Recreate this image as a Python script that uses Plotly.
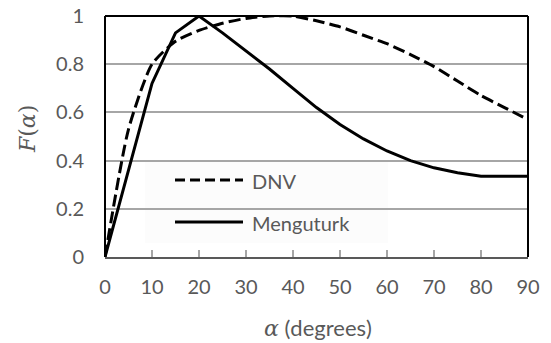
import plotly.graph_objects as go

angles = [0, 5, 10, 15, 20, 25, 30, 35, 40, 45, 50, 55, 60, 65, 70, 75, 80, 85, 90]
dnv = [0, 0.53, 0.80, 0.895, 0.94, 0.97, 0.99, 1.0, 1.0, 0.98, 0.955, 0.92, 0.885, 0.84, 0.79, 0.73, 0.67, 0.62, 0.57]
menguturk = [0, 0.36, 0.72, 0.93, 1.0, 0.93, 0.855, 0.78, 0.70, 0.62, 0.55, 0.49, 0.44, 0.40, 0.37, 0.35, 0.335, 0.335, 0.335]
x_ticks = [0, 10, 20, 30, 40, 50, 60, 70, 80, 90]
y_ticks = [0, 0.2, 0.4, 0.6, 0.8, 1.0]
y_tick_text = ["0", "0.2", "0.4", "0.6", "0.8", "1"]
series_names = ["DNV", "Menguturk"]

GRAY = "#595959"
FONT = "Lato"

fig = go.Figure()
fig.add_trace(go.Scatter(x=angles, y=dnv, mode="lines", name=series_names[0],
                         line=dict(color="black", width=3, dash="12px,5px", shape="spline", smoothing=0.6),
                         showlegend=False))
fig.add_trace(go.Scatter(x=angles, y=menguturk, mode="lines", name=series_names[1],
                         line=dict(color="black", width=3),
                         showlegend=False))

W, H = 551, 343
ml, mr, mt, mb = 105, 23, 16, 86
pw, ph = W - ml - mr, H - mt - mb

def px(x):  # page pixel -> paper fraction
    return (x - ml) / pw

def py(y):
    return 1 - (y - mt) / ph

L, R, T, B = 145, 388, 160, 243
shapes = [
    dict(type="rect", xref="paper", yref="paper", x0=px(L), x1=px(R), y0=py(B), y1=py(T),
         fillcolor="#fcfcfc", line=dict(width=0), layer="between"),
    dict(type="line", xref="paper", yref="paper", x0=px(175), x1=px(243), y0=py(180), y1=py(180),
         line=dict(color="black", width=3, dash="10px,5px")),
    dict(type="line", xref="paper", yref="paper", x0=px(175), x1=px(243), y0=py(222), y1=py(222),
         line=dict(color="black", width=3)),
    dict(type="line", xref="paper", yref="paper", x0=0, x1=0, y0=0, y1=1, line=dict(color="black", width=2)),
    dict(type="line", xref="paper", yref="paper", x0=0, x1=1, y0=1, y1=1, line=dict(color="black", width=2)),
    dict(type="line", xref="paper", yref="paper", x0=1, x1=1, y0=0, y1=1, line=dict(color="black", width=2)),
]
annotations = [
    dict(text=series_names[0], xref="paper", yref="paper", x=px(250), y=py(181), xanchor="left", yanchor="middle",
         showarrow=False, font=dict(family=FONT, size=20, color=GRAY)),
    dict(text=series_names[1], xref="paper", yref="paper", x=px(250), y=py(223), xanchor="left", yanchor="middle",
         showarrow=False, font=dict(family=FONT, size=20, color=GRAY)),
    dict(text="<i>F</i>(<i>α</i>)", xref="paper", yref="paper", x=px(27), y=py(129), xanchor="center", yanchor="middle",
         textangle=-90, showarrow=False, font=dict(family="DejaVu Serif", size=22, color=GRAY)),
    dict(text="<i>α</i><span style='font-family:Lato'> (degrees)</span>", xref="paper", yref="paper",
         x=px(318), y=py(327), xanchor="center", yanchor="middle",
         showarrow=False, font=dict(family="DejaVu Serif", size=22, color=GRAY)),
]

fig.update_layout(
    width=W, height=H,
    margin=dict(l=ml, r=mr, t=mt, b=mb, pad=0, autoexpand=False),
    plot_bgcolor="white", paper_bgcolor="white",
    showlegend=False,
    shapes=shapes, annotations=annotations,
    font=dict(family=FONT, size=17, color=GRAY),
    xaxis=dict(range=[0, 90], tickvals=x_ticks, ticktext=[str(v) for v in x_ticks],
               automargin=False,
               showgrid=False, zeroline=False, showline=True, linecolor=GRAY, linewidth=2,
               ticks="inside", ticklen=7, tickcolor="#a6a6a6", tickwidth=1.5,
               ticklabelstandoff=11, tickfont=dict(family=FONT, size=20, color=GRAY)),
    yaxis=dict(range=[0, 1], tickvals=y_ticks, ticktext=y_tick_text,
               automargin=False,
               showgrid=True, gridcolor="#a6a6a6", gridwidth=1.5, zeroline=False, showline=False,
               ticks="", ticklabelstandoff=20, tickfont=dict(family=FONT, size=20, color=GRAY)),
)

fig.write_html("out.html", config={"displayModeBar": False},
               post_script="document.body.style.margin='0';document.body.style.overflow='hidden';")
